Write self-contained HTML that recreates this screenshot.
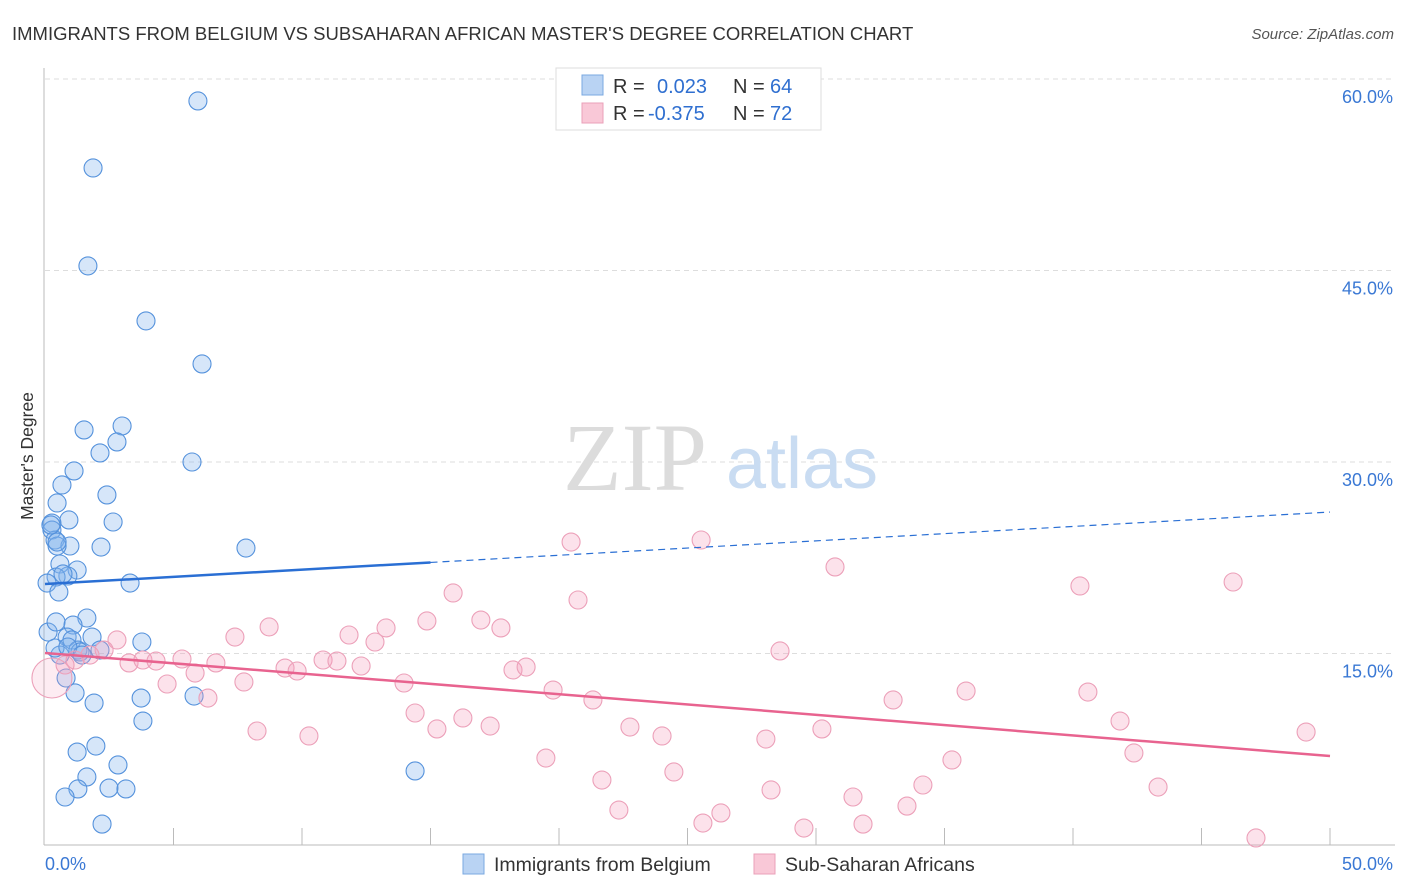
<!DOCTYPE html>
<html><head><meta charset="utf-8"><style>
body{margin:0;background:#fff;font-family:"Liberation Sans",sans-serif}
svg{display:block}
</style></head><body>
<svg id="chart" width="1406" height="892">
<text x="12" y="40" font-size="18.5" fill="#333">IMMIGRANTS FROM BELGIUM VS SUBSAHARAN AFRICAN MASTER'S DEGREE CORRELATION CHART</text>
<text x="1394" y="39" font-size="15" fill="#555" font-style="italic" text-anchor="end">Source: ZipAtlas.com</text>
<g id="grid"></g>
<g>
<text x="635" y="490" font-size="96" font-family="Liberation Serif,serif" fill="#dcdcdc" text-anchor="middle">ZIP</text>
<text x="802" y="488" font-size="72" fill="#c9dcf2" text-anchor="middle">atlas</text>
</g>
<line x1="44" y1="68" x2="44" y2="845" stroke="#bbb"/>
<line x1="44" y1="845" x2="1395" y2="845" stroke="#bbb"/>
<text transform="translate(33,456) rotate(-90)" font-size="17.5" fill="#333" text-anchor="middle">Master's Degree</text>
<g id="marks"></g>
<g id="trends"></g>
<g>
<rect x="556" y="68" width="265" height="62" fill="#fff" stroke="#ddd"/>
<rect x="582" y="75" width="21" height="20" fill="#b9d3f3" stroke="#7aa8e0"/>
<rect x="582" y="103" width="21" height="20" fill="#f9c8d7" stroke="#eaa0b8"/>
<text x="613" y="93" font-size="20" fill="#333">R = </text><text x="657" y="93" font-size="20" fill="#2f6fd0">0.023</text>
<text x="733" y="93" font-size="20" fill="#333">N = </text><text x="770" y="93" font-size="20" fill="#2f6fd0">64</text>
<text x="613" y="120" font-size="20" fill="#333">R = </text><text x="648" y="120" font-size="20" fill="#2f6fd0">-0.375</text>
<text x="733" y="120" font-size="20" fill="#333">N = </text><text x="770" y="120" font-size="20" fill="#2f6fd0">72</text>
</g>
<g>
<rect x="463" y="854" width="21" height="20" fill="#b9d3f3" stroke="#7aa8e0"/>
<text x="494" y="871" font-size="19.5" fill="#333">Immigrants from Belgium</text>
<rect x="754" y="854" width="21" height="20" fill="#f9c8d7" stroke="#eaa0b8"/>
<text x="785" y="871" font-size="19.5" fill="#333">Sub-Saharan Africans</text>
</g>
<text x="45" y="870" font-size="18" fill="#3a78d4">0.0%</text>
<text x="1393" y="870" font-size="18" fill="#3a78d4" text-anchor="end">50.0%</text>
</svg>
<script>
const yTicks=[15,30,45,60];
const yTickLabels=["15.0%","30.0%","45.0%","60.0%"];
const xTicks=[5,10,15,20,25,30,35,40,45,50];
const blueX=[5.95,1.87,1.67,3.93,6.11,1.52,3.00,2.80,2.14,5.72,1.13,0.66,2.41,0.47,2.65,0.93,0.27,0.27,2.18,0.39,0.97,0.47,7.82,0.58,1.25,0.89,0.43,3.31,0.08,0.54,0.12,0.43,1.63,1.09,0.86,1.83,1.05,3.77,1.28,0.58,1.36,0.82,1.17,1.91,3.74,5.80,3.81,1.25,1.98,2.84,1.63,14.40,2.49,1.28,0.78,3.15,2.22,0.47,0.23,0.70,0.39,0.89,1.44,2.14];
const blueY=[58.28,53.03,45.36,41.05,37.68,32.51,32.82,31.57,30.71,30.00,29.30,28.20,27.42,26.79,25.30,25.46,25.22,24.67,23.34,23.89,23.42,23.42,23.26,22.01,21.54,21.07,20.99,20.52,20.52,19.82,16.68,17.47,17.78,17.23,16.29,16.29,16.06,15.90,15.27,14.88,15.12,13.08,11.91,11.12,11.51,11.67,9.71,7.28,7.75,6.27,5.33,5.80,4.46,4.39,3.76,4.39,1.64,23.73,25.07,21.23,15.43,15.51,14.88,15.27];
const pinkX=[2.80,2.30,1.75,1.17,0.78,0.27,3.27,3.81,4.32,4.75,5.33,5.84,6.34,6.65,7.39,7.74,8.25,8.72,9.34,9.81,10.27,10.82,11.36,11.83,12.30,12.84,13.27,13.97,14.40,14.86,15.25,15.88,16.26,16.96,17.32,17.74,18.21,18.72,19.49,19.77,20.47,20.74,21.32,21.67,22.33,22.76,24.01,24.47,25.53,25.60,26.30,28.05,28.25,28.60,29.53,30.23,30.74,31.44,31.83,33.00,33.54,34.16,35.29,35.84,40.27,40.58,41.83,42.37,43.31,46.23,47.12,49.07];
const pinkY=[16.06,15.27,14.88,14.49,14.10,13.08,14.26,14.49,14.41,12.61,14.57,13.47,11.51,14.26,16.29,12.77,8.93,17.08,13.86,13.63,8.54,14.49,14.41,16.45,14.02,15.90,17.00,12.69,10.34,17.55,9.09,19.74,9.95,17.62,9.32,17.00,13.71,13.94,6.81,12.14,23.73,19.19,11.36,5.09,2.74,9.24,8.54,5.72,23.89,1.72,2.51,8.30,4.31,15.20,1.33,9.09,21.78,3.76,1.64,11.36,3.05,4.70,6.66,12.06,20.29,11.98,9.71,7.21,4.54,20.60,0.55,8.85];
const blueTrend=[20.44,26.08];
const pinkTrend=[15.04,6.97];
const NS="http://www.w3.org/2000/svg";
const sx=v=>45+v/50*1285;
const sy=v=>845-v/15*191.5;
function mk(tag,attrs,parent){const e=document.createElementNS(NS,tag);for(const k in attrs)e.setAttribute(k,attrs[k]);parent.appendChild(e);return e;}
const grid=document.getElementById('grid');
yTicks.forEach((t,i)=>{
  const l=mk('line',{x1:45,x2:1395,y1:sy(t),y2:sy(t),stroke:'#ddd','stroke-dasharray':'5,4'},grid);
  
  
  const tx=mk('text',{x:1393,y:sy(t)+24,'font-size':18,fill:'#3a78d4','text-anchor':'end'},grid);
  tx.textContent=yTickLabels[i];
  
  
});
xTicks.forEach(t=>{
  const l=mk('line',{x1:sx(t),x2:sx(t),y1:828,y2:845,stroke:'#bbb'},grid);
  
  
});
const marks=document.getElementById('marks');
blueX.forEach((x,i)=>{
  const c=mk('circle',{cx:sx(x),cy:sy(blueY[i]),r:9,fill:'rgba(130,178,238,0.33)',stroke:'#5592dc','stroke-width':1.1},marks);
  
  
});
pinkX.forEach((x,i)=>{
  const big=i===5;
  const c=mk('circle',{cx:sx(x),cy:sy(pinkY[i]),r:big?20:9,fill:big?'rgba(244,160,188,0.2)':'rgba(244,160,188,0.3)',stroke:'#eca0b9','stroke-width':1.1},marks);
  
  
});
const tr=document.getElementById('trends');
const bAt=x=>blueTrend[0]+(blueTrend[1]-blueTrend[0])*x/50;
let l1=mk('line',{x1:sx(0),y1:sy(bAt(0)),x2:sx(15),y2:sy(bAt(15)),stroke:'#2a6fd4','stroke-width':2.5},tr);


let l2=mk('line',{x1:sx(15),y1:sy(bAt(15)),x2:sx(50),y2:sy(bAt(50)),stroke:'#2a6fd4','stroke-width':1.2,'stroke-dasharray':'7,5'},tr);


let l3=mk('line',{x1:sx(0),y1:sy(pinkTrend[0]),x2:sx(50),y2:sy(pinkTrend[1]),stroke:'#e8638f','stroke-width':2.5},tr);


</script>
</body></html>
